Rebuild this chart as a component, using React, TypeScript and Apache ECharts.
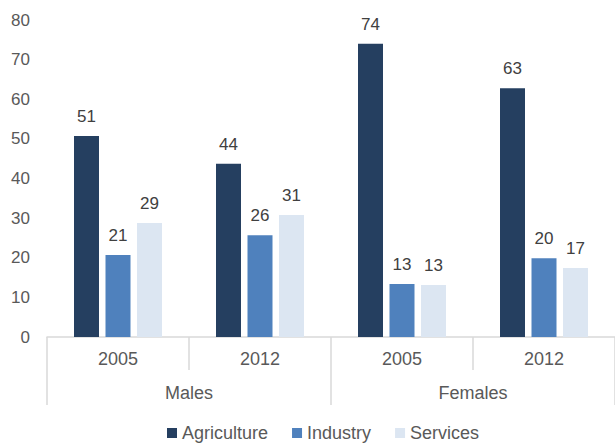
import React, { useEffect, useRef } from "react";
import * as echarts from "echarts";

const years = ["2005", "2012", "2005", "2012"];
const groups = ["Males", "Females"];
const agriculture = [50.7, 43.7, 74.0, 62.8];
const industry = [20.7, 25.7, 13.4, 19.9];
const services = [28.8, 30.8, 13.1, 17.4];
const seriesNames = ["Agriculture", "Industry", "Services"];
const colors = ["#253F60", "#4F81BD", "#DCE6F2"];

export default function App() {
  const ref = useRef<HTMLDivElement>(null);
  useEffect(() => {
    if (!ref.current) return;
    const chart = echarts.init(ref.current, null, { renderer: "svg" });
    const font = "'Liberation Sans', Arial, sans-serif";
    const label = {
      show: true,
      position: "top",
      distance: 11,
      color: "#404040",
      fontSize: 17,
      fontFamily: font,
      formatter: (p: any) => String(Math.round(p.value)),
    };
    const data = [agriculture, industry, services];
    chart.setOption({
      animation: false,
      textStyle: { fontFamily: font },
      grid: { left: 47, right: 0, top: 20, bottom: 107, containLabel: false },
      legend: {
        left: 167,
        top: 424,
        itemWidth: 10,
        itemHeight: 10,
        itemGap: 24,
        icon: "rect",
        padding: 0,
        textStyle: { fontSize: 18, color: "#595959", fontFamily: font },
        data: seriesNames,
      },
      xAxis: [
        {
          type: "category",
          data: years,
          axisLine: { lineStyle: { color: "#D9D9D9", width: 1.5 } },
          axisTick: { show: true, length: 33, lineStyle: { color: "#D9D9D9", width: 1.5 } },
          axisLabel: { color: "#595959", fontSize: 18, fontFamily: font, margin: 13 },
        },
        {
          type: "category",
          data: groups,
          position: "bottom",
          offset: 33,
          axisLine: { show: false },
          axisTick: { show: true, length: 35, lineStyle: { color: "#D9D9D9", width: 1.5 } },
          axisLabel: { color: "#595959", fontSize: 18, fontFamily: font, margin: 14 },
        },
      ],
      yAxis: {
        type: "value",
        min: 0,
        max: 80,
        interval: 10,
        splitLine: { show: false },
        axisLine: { show: false },
        axisTick: { show: false },
        axisLabel: { color: "#595959", fontSize: 17, fontFamily: font, margin: 17 },
      },
      series: seriesNames.map((name, i) => ({
        name,
        type: "bar",
        xAxisIndex: 0,
        data: data[i],
        barWidth: 25,
        barGap: "26%",
        itemStyle: { color: colors[i] },
        label,
      })),
    });
    return () => chart.dispose();
  }, []);
  return <div ref={ref} style={{ width: 615, height: 444, position: "absolute", left: 0, top: 0 }} />;
}
